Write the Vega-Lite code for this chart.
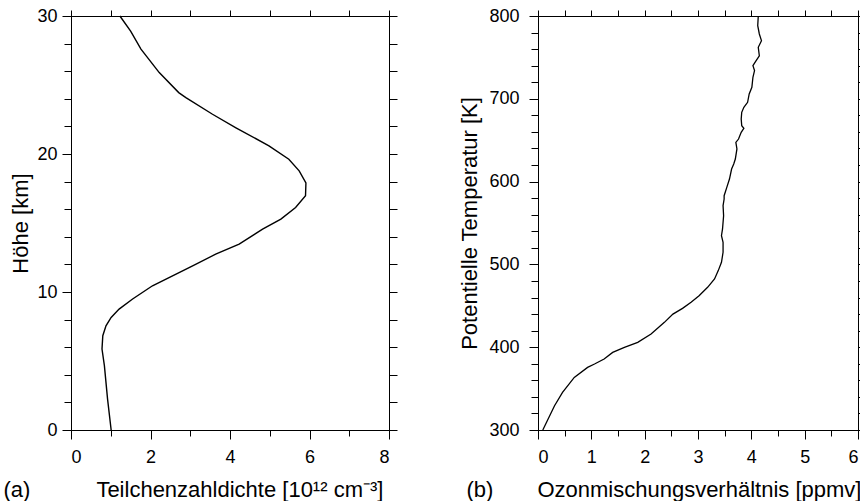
{
  "$schema": "https://vega.github.io/schema/vega-lite/v6.json",
  "background": "white",
  "padding": {"left": 2, "top": 6, "right": 0, "bottom": 0},
  "spacing": 60,
  "config": {
    "font": "Liberation Sans",
    "view": {"stroke": "black", "strokeWidth": 1},
    "axis": {
      "domainColor": "black", "domainWidth": 1, "tickColor": "black", "tickWidth": 1,
      "labelColor": "black", "titleColor": "black", "grid": false,
      "labelFont": "Liberation Sans", "titleFont": "Liberation Sans",
      "labelFontSize": 18, "titleFontSize": 22, "titleFontWeight": "normal"
    }
  },
  "datasets": {
    "a": [
      {"dichte": 1.23, "hoehe": 30},
      {"dichte": 1.5, "hoehe": 28.9},
      {"dichte": 1.76, "hoehe": 27.6},
      {"dichte": 2.22, "hoehe": 25.9},
      {"dichte": 2.71, "hoehe": 24.45},
      {"dichte": 2.89, "hoehe": 24.09},
      {"dichte": 3.56, "hoehe": 22.88},
      {"dichte": 4.15, "hoehe": 21.9},
      {"dichte": 4.98, "hoehe": 20.59},
      {"dichte": 5.48, "hoehe": 19.62},
      {"dichte": 5.74, "hoehe": 18.78},
      {"dichte": 5.91, "hoehe": 17.9},
      {"dichte": 5.9, "hoehe": 16.97},
      {"dichte": 5.65, "hoehe": 16.12},
      {"dichte": 5.28, "hoehe": 15.28},
      {"dichte": 4.82, "hoehe": 14.55},
      {"dichte": 4.23, "hoehe": 13.47},
      {"dichte": 3.64, "hoehe": 12.74},
      {"dichte": 3.06, "hoehe": 11.9},
      {"dichte": 2.05, "hoehe": 10.45},
      {"dichte": 1.55, "hoehe": 9.49},
      {"dichte": 1.21, "hoehe": 8.76},
      {"dichte": 1.01, "hoehe": 8.16},
      {"dichte": 0.88, "hoehe": 7.55},
      {"dichte": 0.8, "hoehe": 6.83},
      {"dichte": 0.78, "hoehe": 5.87},
      {"dichte": 0.84, "hoehe": 4.66},
      {"dichte": 0.92, "hoehe": 2.24},
      {"dichte": 1.01, "hoehe": 0}
    ],
    "b": [
      {"ozon": 0.09, "theta": 300},
      {"ozon": 0.31, "theta": 329.3},
      {"ozon": 0.46, "theta": 345.4},
      {"ozon": 0.68, "theta": 363.5},
      {"ozon": 0.93, "theta": 375.6},
      {"ozon": 1.06, "theta": 379.7},
      {"ozon": 1.24, "theta": 385.7},
      {"ozon": 1.4, "theta": 393.7},
      {"ozon": 1.62, "theta": 399.8},
      {"ozon": 1.87, "theta": 405.8},
      {"ozon": 2.12, "theta": 415.9},
      {"ozon": 2.37, "theta": 430},
      {"ozon": 2.53, "theta": 440},
      {"ozon": 2.71, "theta": 446.9},
      {"ozon": 2.87, "theta": 454.2},
      {"ozon": 3.02, "theta": 462.2},
      {"ozon": 3.18, "theta": 472.3},
      {"ozon": 3.31, "theta": 482.4},
      {"ozon": 3.38, "theta": 492.5},
      {"ozon": 3.44, "theta": 502.5},
      {"ozon": 3.47, "theta": 514.6},
      {"ozon": 3.47, "theta": 526.7},
      {"ozon": 3.44, "theta": 534.7},
      {"ozon": 3.46, "theta": 542.8},
      {"ozon": 3.48, "theta": 558.8},
      {"ozon": 3.47, "theta": 571},
      {"ozon": 3.49, "theta": 579},
      {"ozon": 3.49, "theta": 583},
      {"ozon": 3.54, "theta": 593},
      {"ozon": 3.59, "theta": 603.1},
      {"ozon": 3.63, "theta": 615.2},
      {"ozon": 3.67, "theta": 621.3},
      {"ozon": 3.7, "theta": 627.3},
      {"ozon": 3.73, "theta": 639.4},
      {"ozon": 3.71, "theta": 647.4},
      {"ozon": 3.76, "theta": 651.4},
      {"ozon": 3.81, "theta": 659.5},
      {"ozon": 3.86, "theta": 664.3},
      {"ozon": 3.82, "theta": 667.5},
      {"ozon": 3.81, "theta": 675.6},
      {"ozon": 3.82, "theta": 683.7},
      {"ozon": 3.86, "theta": 689.7},
      {"ozon": 3.93, "theta": 695.8},
      {"ozon": 3.96, "theta": 705.8},
      {"ozon": 4.01, "theta": 713.9},
      {"ozon": 4.03, "theta": 726},
      {"ozon": 4.06, "theta": 734},
      {"ozon": 4.03, "theta": 740},
      {"ozon": 4.09, "theta": 746},
      {"ozon": 4.15, "theta": 752},
      {"ozon": 4.13, "theta": 762.2},
      {"ozon": 4.19, "theta": 770.2},
      {"ozon": 4.15, "theta": 778.3},
      {"ozon": 4.12, "theta": 788.3},
      {"ozon": 4.13, "theta": 800}
    ]
  },
  "hconcat": [
    {
      "width": 318,
      "height": 414,
      "data": {"name": "a"},
      "layer": [
        {
          "mark": {"type": "line", "color": "black", "strokeWidth": 1.4},
          "encoding": {
            "x": {
              "field": "dichte", "type": "quantitative",
              "scale": {"domain": [0, 8], "nice": false, "zero": false},
              "axis": {
                "orient": "bottom",
                "values": [0, 1, 2, 3, 4, 5, 6, 7, 8],
                "labelExpr": "datum.value % 2 === 0 ? '' + datum.value : ''",
                "tickSize": {"condition": {"test": "datum.value % 2 === 0", "value": 9}, "value": 6},
                "labelPadding": 9,
                "title": "(a)\u2002\u2002\u2002\u2002\u2002\u2002Teilchenzahldichte [10¹² cm⁻³]",
                "titleAnchor": "start", "titleAlign": "left",
                "titleX": -68, "titleY": 66, "titleBaseline": "alphabetic"
              }
            },
            "y": {
              "field": "hoehe", "type": "quantitative",
              "scale": {"domain": [0, 30], "nice": false, "zero": false},
              "axis": {
                "orient": "left",
                "values": [0, 2, 4, 6, 8, 10, 12, 14, 16, 18, 20, 22, 24, 26, 28, 30],
                "labelExpr": "datum.value % 10 === 0 ? '' + datum.value : ''",
                "tickSize": {"condition": {"test": "datum.value % 10 === 0", "value": 9}, "value": 7},
                "labelPadding": 5,
                "title": "Höhe [km]",
                "titlePadding": 4
              }
            },
            "order": {"field": "hoehe", "type": "quantitative"}
          }
        },
        {
          "mark": {"type": "line", "opacity": 0},
          "encoding": {
            "x": {
              "field": "dichte", "type": "quantitative",
              "axis": {"orient": "top", "values": [0, 1, 2, 3, 4, 5, 6, 7, 8], "labels": false, "tickSize": 6, "title": null}
            },
            "y": {
              "field": "hoehe", "type": "quantitative",
              "axis": {"orient": "right", "values": [0, 2, 4, 6, 8, 10, 12, 14, 16, 18, 20, 22, 24, 26, 28, 30], "labels": false, "tickSize": 8, "title": null}
            },
            "order": {"field": "hoehe", "type": "quantitative"}
          }
        }
      ],
      "resolve": {"axis": {"x": "independent", "y": "independent"}}
    },
    {
      "width": 320,
      "height": 414,
      "data": {"name": "b"},
      "layer": [
        {
          "mark": {"type": "line", "color": "black", "strokeWidth": 1.3},
          "encoding": {
            "x": {
              "field": "ozon", "type": "quantitative",
              "scale": {"domain": [0, 6], "nice": false, "zero": false},
              "axis": {
                "orient": "bottom",
                "values": [0, 0.5, 1, 1.5, 2, 2.5, 3, 3.5, 4, 4.5, 5, 5.5, 6],
                "labelExpr": "datum.value % 1 === 0 ? '' + datum.value : ''",
                "tickSize": {"condition": {"test": "datum.value % 1 === 0", "value": 9}, "value": 6},
                "labelPadding": 9,
                "title": "(b)\u2002\u2002\u2002\u2002Ozonmischungsverhältnis [ppmv]",
                "titleAnchor": "start", "titleAlign": "left",
                "titleX": -72, "titleY": 66, "titleBaseline": "alphabetic"
              }
            },
            "y": {
              "field": "theta", "type": "quantitative",
              "scale": {"domain": [300, 800], "nice": false, "zero": false},
              "axis": {
                "orient": "left",
                "values": [300, 320, 340, 360, 380, 400, 420, 440, 460, 480, 500, 520, 540, 560, 580, 600, 620, 640, 660, 680, 700, 720, 740, 760, 780, 800],
                "labelExpr": "datum.value % 100 === 0 ? '' + datum.value : ''",
                "tickSize": {"condition": {"test": "datum.value % 100 === 0", "value": 9}, "value": 7},
                "labelPadding": 10,
                "title": "Potentielle Temperatur [K]",
                "titlePadding": 7
              }
            },
            "order": {"field": "theta", "type": "quantitative"}
          }
        },
        {
          "mark": {"type": "line", "opacity": 0},
          "encoding": {
            "x": {
              "field": "ozon", "type": "quantitative",
              "axis": {"orient": "top", "values": [0, 0.5, 1, 1.5, 2, 2.5, 3, 3.5, 4, 4.5, 5, 5.5, 6], "labels": false, "tickSize": 6, "title": null}
            },
            "y": {
              "field": "theta", "type": "quantitative",
              "axis": {"orient": "right", "values": [300, 320, 340, 360, 380, 400, 420, 440, 460, 480, 500, 520, 540, 560, 580, 600, 620, 640, 660, 680, 700, 720, 740, 760, 780, 800], "labels": false, "tickSize": 8, "title": null}
            },
            "order": {"field": "theta", "type": "quantitative"}
          }
        }
      ],
      "resolve": {"axis": {"x": "independent", "y": "independent"}}
    }
  ]
}
